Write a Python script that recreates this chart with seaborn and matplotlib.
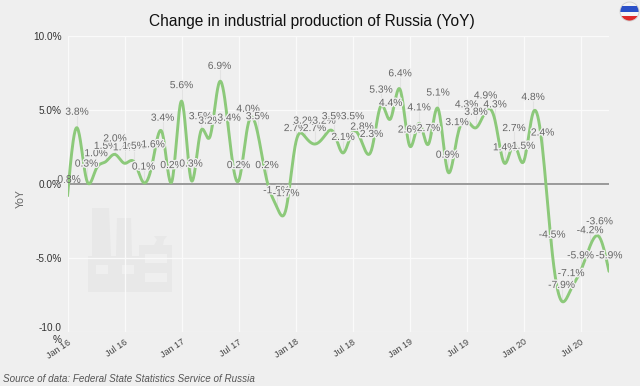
import numpy as np
import pandas as pd
import matplotlib
matplotlib.use("Agg")
import matplotlib.pyplot as plt
import matplotlib.patheffects as pe
from matplotlib.patches import Circle, Polygon, Rectangle
from matplotlib.transforms import ScaledTranslation
import seaborn as sns

BG = "#efefef"
GREEN = "#8cc97a"

# monthly values, Jan 16 to Oct 20
values = [-0.8, 3.8, 0.3, 1.0, 1.5, 2.0, 1.4, 1.5, 0.1, 1.6, 3.4, 0.2,
          5.6, 0.3, 3.5, 3.2, 6.9, 3.4, 0.2, 4.0, 3.5, 0.2, -1.5, -1.7,
          2.7, 3.2, 2.7, 3.2, 3.5, 2.1, 3.5, 2.8, 2.3, 5.3, 4.4, 6.4,
          2.6, 4.1, 2.7, 5.1, 0.9, 3.1, 4.3, 3.8, 4.9, 4.3, 1.4, 2.7,
          1.5, 4.8, 2.4, -4.5, -7.9, -7.1, -5.9, -4.2, -3.6, -5.9]
tick_months = [0, 6, 12, 18, 24, 30, 36, 42, 48, 54]
tick_labels = ["Jan 16", "Jul 16", "Jan 17", "Jul 17", "Jan 18",
               "Jul 18", "Jan 19", "Jul 19", "Jan 20", "Jul 20"]
y_ticks = [-10, -5, 0, 5, 10]
y_labels = ["-10.0\n%", "-5.0%", "0.0%", "5.0%", "10.0%"]


def spline(y, n=20):
    # natural cubic spline, the source chart draws a smoothed line
    y = np.array(y, dtype=float)
    m = len(y)
    A = np.zeros((m, m))
    b = np.zeros(m)
    A[0, 0] = A[-1, -1] = 1
    for i in range(1, m - 1):
        A[i, i - 1:i + 2] = [1, 4, 1]
        b[i] = 6 * (y[i - 1] - 2 * y[i] + y[i + 1])
    k = np.linalg.solve(A, b)
    xs = np.linspace(0, m - 1, (m - 1) * n + 1)
    i = np.minimum(xs.astype(int), m - 2)
    t = xs - i
    ys = (1 - t) * y[i] + t * y[i + 1] + ((1 - t) ** 3 - (1 - t)) * k[i] / 6 + (t ** 3 - t) * k[i + 1] / 6
    return xs, ys


sns.set_theme(style="whitegrid", rc={"axes.facecolor": "none", "figure.facecolor": BG,
                                     "grid.color": "#fafafa", "grid.linewidth": 0.9})
plt.rcParams["font.family"] = ["Liberation Sans", "DejaVu Sans"]

fig = plt.figure(figsize=(6.4, 3.86), dpi=100)

# factory watermark and flag, in pixel coordinates
bgax = fig.add_axes([0, 0, 1, 1], zorder=0)
bgax.set_xlim(0, 640)
bgax.set_ylim(386, 0)
bgax.axis("off")
grey = "#e8e8e8"
bgax.add_patch(Polygon([(88, 292), (88, 256), (92, 256), (92, 208), (109, 208), (111, 256),
                        (116, 256), (117, 218), (131, 218), (132, 256), (139, 256), (139, 245),
                        (154, 245), (157, 240), (154, 236), (167, 236), (164, 240), (163, 245),
                        (172, 245), (172, 292)], color=grey, lw=0))
for x0, y0, w, h in [(96, 265, 12, 9), (122, 265, 12, 9), (145, 254, 22, 9), (145, 273, 22, 9)]:
    bgax.add_patch(Rectangle((x0, y0), w, h, color=BG, lw=0))
clip = Circle((629.5, 11.5), 9.5, transform=bgax.transData)
for y0, h, c in [(1, 5, "#f2f2f2"), (6, 6, "#2a50c8"), (12, 4, "#f6f6f6"), (16, 6, "#e02a2a")]:
    r = Rectangle((619, y0), 21, h, color=c, lw=0)
    bgax.add_patch(r)
    r.set_clip_path(clip)
bgax.add_patch(Circle((629.5, 11.5), 9.5, fill=False, ec="#cfcfcf", lw=0.6))

ax = fig.add_axes([67.5 / 640, 1 - 332 / 386, 541.5 / 640, 296 / 386], zorder=1)

xs, ys = spline(values)
df = pd.DataFrame({"month": xs, "yoy": ys})

ax.axhline(0, color="#8a8a8a", lw=1.2, zorder=2)
for i, v in enumerate(values):
    ax.plot([i, i], [v, v + 13 / 14.8], color="#e2e2e2", lw=0.8, zorder=1.5)
sns.lineplot(data=df, x="month", y="yoy", color=GREEN, lw=2.1, ax=ax, zorder=3)

for i, v in enumerate(values):
    # first label runs into the 0.0% tick, no halo there
    effects = [] if i == 0 else [pe.withStroke(linewidth=2, foreground=BG)]
    ax.annotate(f"{v:.1f}%", (i, v), xytext=(0, 11.5), textcoords="offset points",
                ha="center", va="center", fontsize=7.4, color="#666666", zorder=4,
                annotation_clip=False, path_effects=effects)

ax.set_xlim(0, len(values) - 1)
ax.set_ylim(-10, 10)
ax.set_xticks(tick_months)
ax.set_xticklabels(tick_labels, rotation=34, ha="right", rotation_mode="anchor",
                   fontsize=6.5, color="#444444")
off = ScaledTranslation(10 / 100, 2 / 100, fig.dpi_scale_trans)
for lab in ax.get_xticklabels():
    lab.set_transform(lab.get_transform() + off)
ax.set_yticks(y_ticks)
ax.set_yticklabels(y_labels, fontsize=7.2, color="#333333")
ax.tick_params(axis="both", length=0, pad=4)
ax.set_xlabel("")
ax.set_ylabel("")
for s in ax.spines.values():
    s.set_visible(False)

fig.text(21 / 640, 1 - 199 / 386, "YoY", rotation=90, ha="center", va="center", fontsize=7.6, color="#666666")
fig.text(312 / 640, 1 - 21.5 / 386, "Change in industrial production of Russia (YoY)",
         ha="center", va="center", fontsize=11.2, color="#111111")
fig.text(3 / 640, 1 - 379 / 386, "Source of data: Federal State Statistics Service of Russia",
         ha="left", va="center", fontsize=7.1, style="italic", color="#555555")

fig.savefig("out.png", dpi=100, facecolor=BG)
